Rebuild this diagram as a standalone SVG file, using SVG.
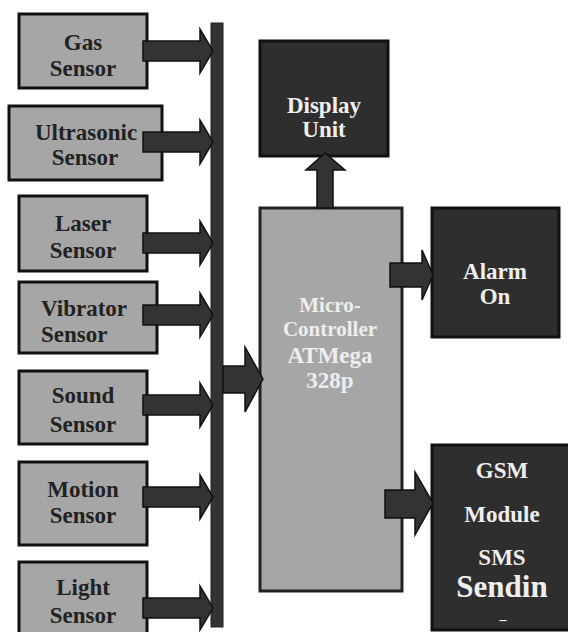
<svg xmlns="http://www.w3.org/2000/svg" width="568" height="632" viewBox="0 0 568 632">
<style>
.sensor{fill:#a6a6a6;stroke:#111;stroke-width:3}
.dark{fill:#2e2e2e;stroke:#111;stroke-width:3}
.mcu{fill:#a6a6a6;stroke:#222;stroke-width:3}
.arr{fill:#333;stroke:#111;stroke-width:1.5;stroke-linejoin:miter}
text{font-family:"Liberation Serif","Times New Roman",serif;font-weight:bold;font-size:23px;text-anchor:middle}
.tdark{fill:#222}
.tlight{fill:#eeeeee}
</style>
<defs>
<path id="sarrow" d="M-70,-10 L-13,-10 L-13,-22 L0,0 L-13,22 L-13,10 L-70,10 Z"/>
</defs>
<rect width="568" height="632" fill="#ffffff"/>

<g id="gas-sensor">
<rect class="sensor" x="19" y="14" width="128" height="74"/>
<text class="tdark" x="83" y="50">Gas</text>
<text class="tdark" x="83" y="76">Sensor</text>
</g>

<g id="ultrasonic-sensor">
<rect class="sensor" x="9" y="106" width="153" height="74"/>
<text class="tdark" x="86" y="140">Ultrasonic</text>
<text class="tdark" x="85" y="165">Sensor</text>
</g>

<g id="laser-sensor">
<rect class="sensor" x="19" y="196" width="128" height="75"/>
<text class="tdark" x="83" y="231">Laser</text>
<text class="tdark" x="83" y="258">Sensor</text>
</g>

<g id="vibrator-sensor">
<rect class="sensor" x="19" y="282" width="138" height="71"/>
<text class="tdark" x="41" y="316" style="text-anchor:start">Vibrator</text>
<text class="tdark" x="41" y="342" style="text-anchor:start">Sensor</text>
</g>

<g id="sound-sensor">
<rect class="sensor" x="19" y="371" width="128" height="73"/>
<text class="tdark" x="83" y="403">Sound</text>
<text class="tdark" x="83" y="432">Sensor</text>
</g>

<g id="motion-sensor">
<rect class="sensor" x="19" y="462" width="128" height="83"/>
<text class="tdark" x="83" y="497">Motion</text>
<text class="tdark" x="83" y="523">Sensor</text>
</g>

<g id="light-sensor">
<rect class="sensor" x="19" y="562" width="128" height="80"/>
<text class="tdark" x="83" y="595">Light</text>
<text class="tdark" x="83" y="623">Sensor</text>
</g>

<g id="display-unit">
<rect class="dark" x="260" y="41" width="128" height="115"/>
<text class="tlight" x="324" y="113">Display</text>
<text class="tlight" x="324" y="137">Unit</text>
</g>

<g id="microcontroller">
<rect class="mcu" x="260" y="208" width="142" height="383"/>
<text class="tlight" x="330" y="312" style="font-size:21px">Micro-</text>
<text class="tlight" x="330" y="336" style="font-size:21px">Controller</text>
<text class="tlight" x="330" y="363">ATMega</text>
<text class="tlight" x="330" y="388">328p</text>
</g>

<g id="alarm-on">
<rect class="dark" x="432" y="208" width="127" height="129"/>
<text class="tlight" x="495" y="279">Alarm</text>
<text class="tlight" x="495" y="304">On</text>
</g>

<g id="gsm-module">
<rect class="dark" x="432" y="445" width="140" height="185"/>
<text class="tlight" x="502" y="478">GSM</text>
<text class="tlight" x="502" y="522">Module</text>
<text class="tlight" x="502" y="565">SMS</text>
<text class="tlight" x="502" y="597" style="font-size:31px">Sendin</text>
<text class="tlight" x="503" y="624" style="font-size:14px">–</text>
</g>

<g id="bus">
<rect x="211" y="23" width="12" height="604" fill="#333" stroke="#222" stroke-width="1"/>
</g>

<g id="connectors">
<use href="#sarrow" class="arr" transform="translate(213,51)"/>
<use href="#sarrow" class="arr" transform="translate(213,142)"/>
<use href="#sarrow" class="arr" transform="translate(213,243)"/>
<use href="#sarrow" class="arr" transform="translate(213,315)"/>
<use href="#sarrow" class="arr" transform="translate(213,405)"/>
<use href="#sarrow" class="arr" transform="translate(213,497)"/>
<use href="#sarrow" class="arr" transform="translate(213,608)"/>
<polygon class="arr" points="223,366 245,366 245,347 263,379 245,412 245,393 223,393"/>
<polygon class="arr" points="317,208 317,170 306,170 325,153 345,170 333,170 333,208"/>
<polygon class="arr" points="390,263 422,263 422,250 433,275 422,300 422,287 390,287"/>
<polygon class="arr" points="385,490 415,490 415,472 433,503 415,535 415,518 385,518"/>
</g>
</svg>
